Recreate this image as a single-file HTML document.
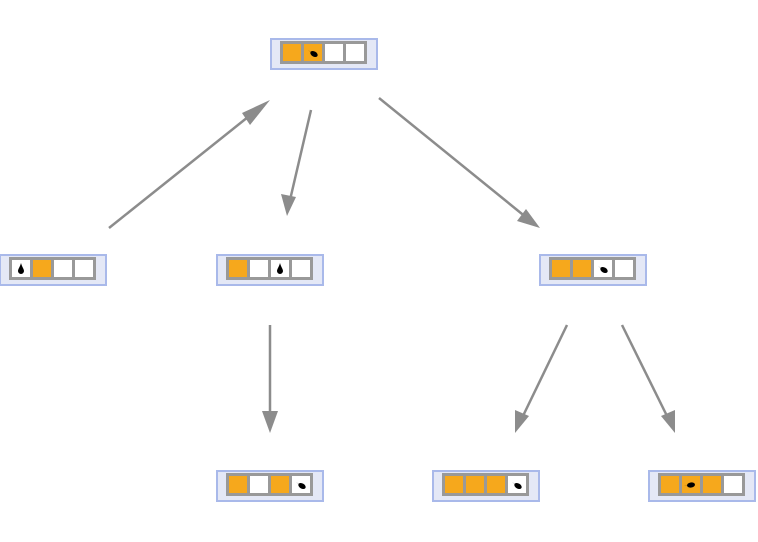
<!DOCTYPE html>
<html><head><style>body{margin:0;background:#fff}svg{display:block}</style></head><body>
<svg width="758" height="542" viewBox="0 0 758 542" xmlns="http://www.w3.org/2000/svg">
<defs>
<g id="bird"><ellipse cx="0" cy="0" rx="4" ry="2.6" transform="rotate(30)" fill="#000"/><path d="M-3,-2 L-6,-4 L-2,-1Z" fill="#000"/></g>
<g id="drop"><path d="M0,-6 C1,-2 3,0 3,2 A3,3 0 0 1 -3,2 C-3,0 -1,-2 0,-6Z" fill="#000"/></g>
<g id="f"><rect x="1" y="1" width="106" height="30" fill="#e4e8f6" stroke="#a9b9ea" stroke-width="2"/><rect x="10" y="3" width="87" height="23" fill="#999"/></g>
<rect id="o" width="18" height="17" fill="#f6a81c"/>
<rect id="w" width="18" height="17" fill="#fff"/>
</defs>
<g stroke="#8c8c8c" stroke-width="2.5" fill="#8c8c8c">
<line x1="109" y1="228" x2="258" y2="109"/><polygon points="270,100 250,125 242,113" stroke="none"/>
<line x1="311" y1="110" x2="290" y2="200"/><polygon points="287,216 281,194 296,197" stroke="none"/>
<line x1="379" y1="98" x2="527" y2="218"/><polygon points="540,228 517,221 526,209" stroke="none"/>
<line x1="270" y1="325" x2="270" y2="418"/><polygon points="270,433 262,411 278,411" stroke="none"/>
<line x1="567" y1="325" x2="522" y2="418"/><polygon points="515,433 515,410 529,416" stroke="none"/>
<line x1="622" y1="325" x2="668" y2="418"/><polygon points="675,433 661,416 675,410" stroke="none"/>
</g>

<g transform="translate(270,38)"><use href="#f"/>
<use href="#o" x="13" y="6"/><use href="#o" x="34" y="6"/><use href="#w" x="55" y="6"/><use href="#w" x="76" y="6"/>
<use href="#bird" x="44" y="16"/></g>

<g transform="translate(-1,254)"><use href="#f"/>
<use href="#w" x="13" y="6"/><use href="#o" x="34" y="6"/><use href="#w" x="55" y="6"/><use href="#w" x="76" y="6"/>
<use href="#drop" x="22" y="15"/></g>

<g transform="translate(216,254)"><use href="#f"/>
<use href="#o" x="13" y="6"/><use href="#w" x="34" y="6"/><use href="#w" x="55" y="6"/><use href="#w" x="76" y="6"/>
<use href="#drop" x="64" y="15"/></g>

<g transform="translate(539,254)"><use href="#f"/>
<use href="#o" x="13" y="6"/><use href="#o" x="34" y="6"/><use href="#w" x="55" y="6"/><use href="#w" x="76" y="6"/>
<use href="#bird" x="65" y="16"/></g>

<g transform="translate(216,470)"><use href="#f"/>
<use href="#o" x="13" y="6"/><use href="#w" x="34" y="6"/><use href="#o" x="55" y="6"/><use href="#w" x="76" y="6"/>
<use href="#bird" x="86" y="16"/></g>

<g transform="translate(432,470)"><use href="#f"/>
<use href="#o" x="13" y="6"/><use href="#o" x="34" y="6"/><use href="#o" x="55" y="6"/><use href="#w" x="76" y="6"/>
<use href="#bird" x="86" y="16"/></g>

<g transform="translate(648,470)"><use href="#f"/>
<use href="#o" x="13" y="6"/><use href="#o" x="34" y="6"/><use href="#o" x="55" y="6"/><use href="#w" x="76" y="6"/>
<g transform="translate(43,15) rotate(-40)"><use href="#bird"/></g></g>
</svg>
</body></html>
